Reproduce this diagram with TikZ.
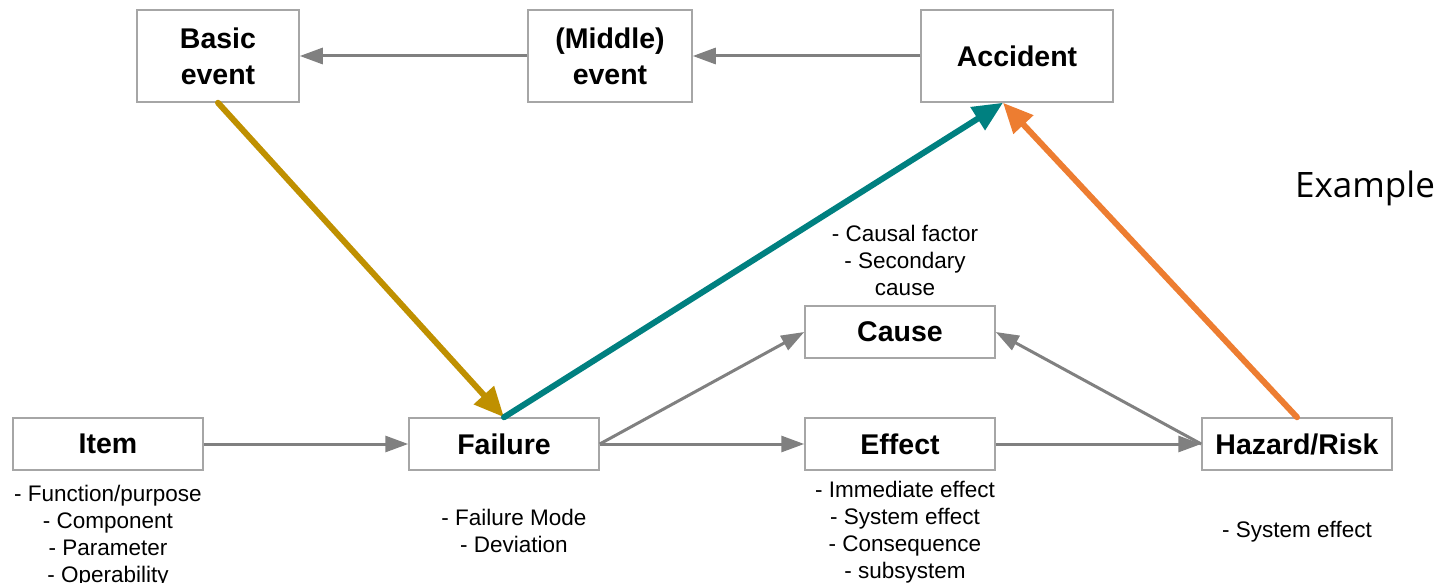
\documentclass[tikz,border=0pt]{standalone}
\usepackage{fontspec}
\setmainfont{Liberation Sans}
\newfontfamily\examplefont{Open Sans}
\usetikzlibrary{positioning, arrows.meta}

\definecolor{boxgray}{RGB}{166,166,166}
\definecolor{linkgray}{RGB}{128,128,128}
\definecolor{goldarrow}{RGB}{191,144,0}
\definecolor{tealarrow}{RGB}{0,128,128}
\definecolor{orangearrow}{RGB}{237,125,49}

\begin{document}
\begin{tikzpicture}[%
    x=1pt, y=-1pt,
    % Boxes
    block/.style={draw=boxgray, line width=1.5pt, rectangle, fill=white, align=center, inner sep=0pt, font=\bfseries\fontsize{28.5}{36}\selectfont},
    eventbox/.style={block, minimum width=162pt, minimum height=92pt},
    stagebox/.style={block, minimum width=190pt, minimum height=52pt},
    note/.style={inner sep=0pt, align=center, font=\fontsize{22.5}{27}\selectfont},
    % Connectors
    link/.style={draw=linkgray, line width=3pt, -{Triangle[length=23pt, width=16pt]}},
    trace/.style={line width=6pt, line cap=round, -{Triangle[length=30pt, width=26pt]}}
]
\useasboundingbox (0,0) rectangle (1441,583);

% --- 1. Event chain (top) ---
\node[eventbox] (basic) at (218,56) {Basic\\event};
\node[eventbox, minimum width=164pt] (middle) at (610,56) {(Middle)\\event};
\node[eventbox, minimum width=192pt] (accident) at (1017,56) {Accident};
\coordinate (acc_hit) at ([xshift=-14pt]accident.south);

\draw[link] (middle) -- (basic);
\draw[link] (accident) -- (middle);

% --- 2. Analysis chain (bottom) ---
\node[stagebox] (item) at (108,444) {Item};
\node[stagebox] (failure) at (504,444) {Failure};
\node[stagebox] (effect) at (900,444) {Effect};
\node[stagebox] (cause) at (900,332) {Cause};
\node[stagebox] (hazard) at (1297,444) {Hazard/Risk};

\draw[link] (item) -- (failure);
\draw[link] (failure.east) -- (cause.west);
\draw[link] (failure) -- (effect);
\draw[link] (effect) -- (hazard);
\draw[link] (hazard.west) -- (cause.east);

% Notes
\node[note, below=14pt of item] (item_note) {- Function/purpose\\- Component\\- Parameter\\- Operability};
\node[note, below=38pt of failure, xshift=10pt] (failure_note) {- Failure Mode\\- Deviation};
\node[note, below=10pt of effect, xshift=5pt] (effect_note) {- Immediate effect\\- System effect\\- Consequence\\- subsystem};
\node[note, above=9pt of cause, xshift=5pt] (cause_note) {- Causal factor\\- Secondary\\cause};
\node[note, below=50pt of hazard] (hazard_note) {- System effect};

% --- 3. Mapping arrows ---
\draw[trace, goldarrow] (basic.south) -- (failure.north);
\draw[trace, tealarrow] (failure.north) -- (acc_hit);
\draw[trace, orangearrow] (hazard.north) -- (acc_hit);

\node[font=\examplefont\fontsize{35}{42}\selectfont] (example) at (1365,188) {Example};

\end{tikzpicture}
\end{document}
